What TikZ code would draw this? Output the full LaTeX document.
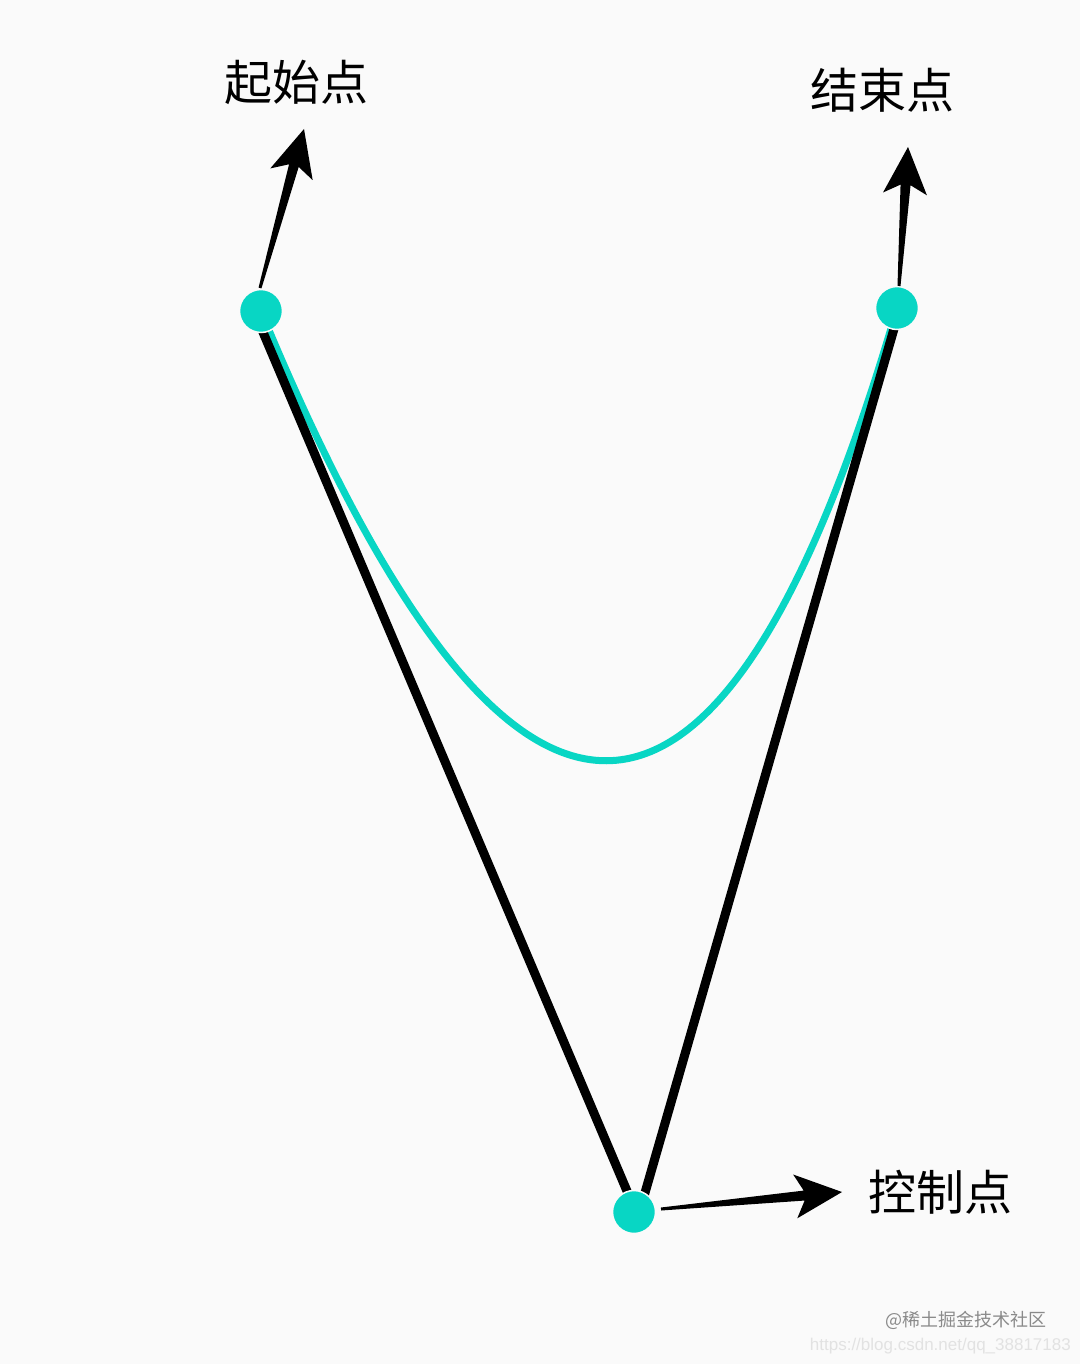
\documentclass[tikz,border=0pt]{standalone}
\usepackage{fontspec}
\setmainfont{Noto Sans CJK SC}
\newfontfamily\urlfont{Liberation Sans}
\usetikzlibrary{calc}
\definecolor{bgc}{HTML}{FAFAFA}
\definecolor{teal}{RGB}{8,214,196}
\definecolor{wmgrey}{HTML}{8A8A8A}
\definecolor{wmlight}{HTML}{E2E2E2}
\tikzset{
  dot/.style={circle, fill=teal, draw=bgc, line width=1.5pt, minimum size=43pt, inner sep=0pt},
  label/.style={font=\fontsize{48}{56}\selectfont, inner sep=0pt},
  vline/.style={line width=9pt, black},
  curve/.style={line width=7pt, teal},
}
\newcommand\tparrow[2]{%
  \coordinate (n1) at ($(#2)!38pt!(#1)$);
  \coordinate (n2) at ($(#2)!47pt!(#1)$);
  \fill[black] ($(#1)!1.5pt!90:(#2)$) -- ($(n1)!5pt!90:(#2)$) -- ($(n2)!22pt!90:(#2)$) -- (#2)
    -- ($(n2)!22pt!-90:(#2)$) -- ($(n1)!5pt!-90:(#2)$) -- ($(#1)!1.5pt!-90:(#2)$) -- cycle;}
\begin{document}
\begin{tikzpicture}[x=1pt,y=-1pt]
\fill[bgc] (0,0) rectangle (1080,1364);
\useasboundingbox (0,0) rectangle (1080,1364);
% points
\coordinate (s) at (261,311);
\coordinate (e) at (897,308);
\coordinate (c) at (634,1212);
% control polygon vertices (slightly offset as in the reference)
\coordinate (vs) at (254,311);
\coordinate (vc) at (638,1217);
\coordinate (ve) at (900,308);
% quadratic curve
\draw[curve] (s) .. controls ($(s)!2/3!(c)$) and ($(e)!2/3!(c)$) .. (e);
% control polygon
\draw[vline] (vs) -- (vc) -- (ve);
% dots
\node[dot] (ds) at (s) {};
\node[dot] (de) at (e) {};
\node[dot] (dc) at (c) {};
% arrows
\coordinate (bs) at (260,288);
\coordinate (ts) at (304,129);
\coordinate (be) at (899,286);
\coordinate (te) at (908,147);
\coordinate (bc) at (661,1209);
\coordinate (tc) at (842,1192);
\tparrow{bs}{ts}
\tparrow{be}{te}
\tparrow{bc}{tc}
% labels
\node[label] (ls) at (296,82) {起始点};
\node[label] (le) at (882,90) {结束点};
\node[label] (lc) at (940,1192) {控制点};
% watermark
\node[font=\fontsize{18}{20}\selectfont, text=wmgrey, anchor=east, inner sep=0pt] (wm1) at (1047,1320) {@稀土掘金技术社区};
\node[font=\urlfont\fontsize{17}{19}\selectfont, text=wmlight, anchor=east, inner sep=0pt] (wm2) at (1071,1346) {https://blog.csdn.net/qq\_38817183};
\end{tikzpicture}
\end{document}
